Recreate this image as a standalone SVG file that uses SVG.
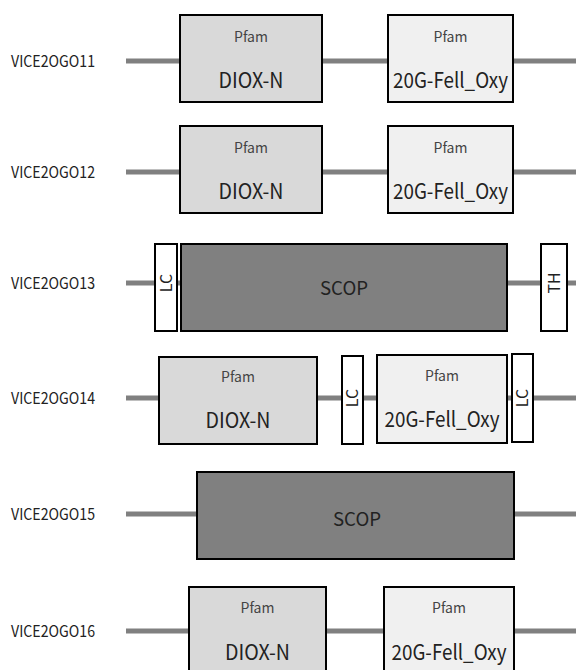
<svg xmlns="http://www.w3.org/2000/svg" width="576" height="670" viewBox="0 0 576 670">
<style>
.bb{stroke:#808080;stroke-width:5;fill:none}
.box{stroke:#000;stroke-width:2}
.diox{fill:#d9d9d9}
.g20{fill:#f0f0f0}
.scop{fill:#808080}
.tag{fill:#fff}
text{font-family:"Noto Sans CJK KR","Noto Sans",sans-serif;fill:#222}
.lbl{font-size:16px}
.pf{font-size:14px;fill:#444;text-anchor:middle}
.nm{font-size:21px;text-anchor:middle}
.sc{font-size:19px;text-anchor:middle;fill:#222}
.tg{font-size:16px;text-anchor:middle}
</style>
<rect width="576" height="670" fill="#fff"/>
<g id="connectors">
<line class="bb" x1="126" y1="61" x2="576" y2="61"/>
<line class="bb" x1="126" y1="172" x2="576" y2="172"/>
<line class="bb" x1="126" y1="283" x2="576" y2="283"/>
<line class="bb" x1="126" y1="398" x2="576" y2="398"/>
<line class="bb" x1="126" y1="514" x2="576" y2="514"/>
<line class="bb" x1="126" y1="631" x2="576" y2="631"/>
</g>
<g id="labels">
<text class="lbl" x="11" y="67" textLength="84" lengthAdjust="spacingAndGlyphs">VICE2OGO11</text>
<text class="lbl" x="11" y="178" textLength="84" lengthAdjust="spacingAndGlyphs">VICE2OGO12</text>
<text class="lbl" x="11" y="289" textLength="84" lengthAdjust="spacingAndGlyphs">VICE2OGO13</text>
<text class="lbl" x="11" y="404" textLength="84" lengthAdjust="spacingAndGlyphs">VICE2OGO14</text>
<text class="lbl" x="11" y="520" textLength="84" lengthAdjust="spacingAndGlyphs">VICE2OGO15</text>
<text class="lbl" x="11" y="637" textLength="84" lengthAdjust="spacingAndGlyphs">VICE2OGO16</text>
</g>
<g id="r1-diox">
<rect class="box diox" x="180" y="15" width="142" height="87"/>
<text class="pf" x="251" y="42">Pfam</text>
<text class="nm" x="251" y="88" textLength="65" lengthAdjust="spacingAndGlyphs">DIOX-N</text>
</g>
<g id="r1-20g">
<rect class="box g20" x="388" y="15" width="125" height="87"/>
<text class="pf" x="450.5" y="42">Pfam</text>
<text class="nm" x="450.5" y="88" textLength="115" lengthAdjust="spacingAndGlyphs">20G-Fell_Oxy</text>
</g>
<g id="r2-diox">
<rect class="box diox" x="180" y="126" width="142" height="87"/>
<text class="pf" x="251" y="153">Pfam</text>
<text class="nm" x="251" y="199" textLength="65" lengthAdjust="spacingAndGlyphs">DIOX-N</text>
</g>
<g id="r2-20g">
<rect class="box g20" x="388" y="126" width="125" height="87"/>
<text class="pf" x="450.5" y="153">Pfam</text>
<text class="nm" x="450.5" y="199" textLength="115" lengthAdjust="spacingAndGlyphs">20G-Fell_Oxy</text>
</g>
<g id="r3-lc">
<rect class="box tag" x="155" y="244" width="22" height="87"/>
<text class="tg" transform="translate(171.5,283) rotate(-90)">LC</text>
</g>
<g id="r3-scop">
<rect class="box scop" x="181" y="244" width="326" height="87"/>
<text class="sc" x="344" y="295" textLength="48" lengthAdjust="spacingAndGlyphs">SCOP</text>
</g>
<g id="r3-th">
<rect class="box tag" x="541" y="244" width="26" height="87"/>
<text class="tg" transform="translate(559.5,283) rotate(-90)">TH</text>
</g>
<g id="r4-diox">
<rect class="box diox" x="159" y="357" width="158" height="87"/>
<text class="pf" x="238" y="382">Pfam</text>
<text class="nm" x="238" y="428" textLength="65" lengthAdjust="spacingAndGlyphs">DIOX-N</text>
</g>
<g id="r4-lc1">
<rect class="box tag" x="342" y="356" width="21" height="88"/>
<text class="tg" transform="translate(358,398) rotate(-90)">LC</text>
</g>
<g id="r4-20g">
<rect class="box g20" x="377" y="355" width="130" height="88"/>
<text class="pf" x="442" y="381">Pfam</text>
<text class="nm" x="442" y="427" textLength="115" lengthAdjust="spacingAndGlyphs">20G-Fell_Oxy</text>
</g>
<g id="r4-lc2">
<rect class="box tag" x="512" y="354" width="21" height="88"/>
<text class="tg" transform="translate(528,398) rotate(-90)">LC</text>
</g>
<g id="r5-scop">
<rect class="box scop" x="197" y="472" width="317" height="87"/>
<text class="sc" x="357" y="526" textLength="48" lengthAdjust="spacingAndGlyphs">SCOP</text>
</g>
<g id="r6-diox">
<rect class="box diox" x="189" y="587" width="137" height="90"/>
<text class="pf" x="257.5" y="613">Pfam</text>
<text class="nm" x="257.5" y="660" textLength="65" lengthAdjust="spacingAndGlyphs">DIOX-N</text>
</g>
<g id="r6-20g">
<rect class="box g20" x="384" y="587" width="130" height="90"/>
<text class="pf" x="449" y="613">Pfam</text>
<text class="nm" x="449" y="660" textLength="115" lengthAdjust="spacingAndGlyphs">20G-Fell_Oxy</text>
</g>
</svg>
